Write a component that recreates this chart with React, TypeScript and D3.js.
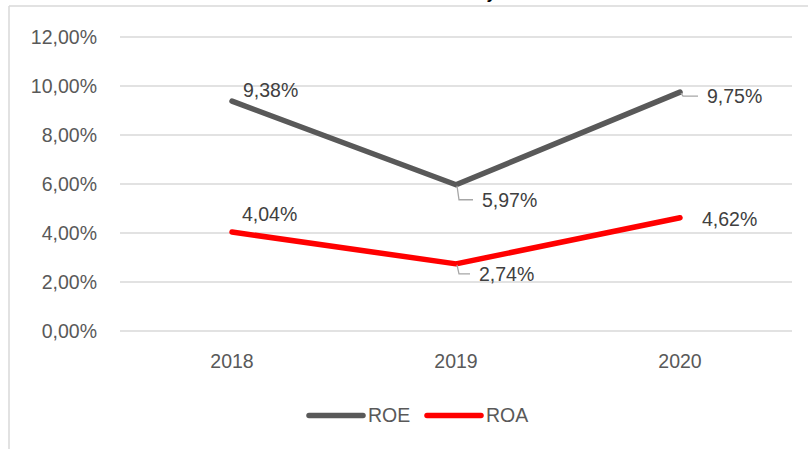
import React from "react";
import * as d3 from "d3";

const years = ["2018", "2019", "2020"];
const roe = [9.38, 5.97, 9.75];
const roa = [4.04, 2.74, 4.62];
const yTicks = [0, 2, 4, 6, 8, 10, 12];
const seriesNames = ["ROE", "ROA"];
const seriesColors = ["#595959", "#FF0000"];

const W = 808;
const H = 449;
const FONT = "'Liberation Sans', Arial, sans-serif";
const TXT = "#595959";

const fmt = (v: number) => v.toFixed(2).replace(".", ",") + "%";

export default function App() {
  const x = d3.scalePoint<string>().domain(years).range([232, 680]);
  const y = d3.scaleLinear().domain([0, 12]).range([331, 37]);
  const line = d3
    .line<number>()
    .x((_, i) => x(years[i]) as number)
    .y((d) => y(d));

  const series = [roe, roa];

  const roeLabels = [
    { dx: 11, dy: -4, leader: false },
    { dx: 26, dy: 22, leader: true },
    { dx: 27, dy: 11, leader: true },
  ];
  const roaLabels = [
    { dx: 10, dy: -11, leader: false },
    { dx: 23, dy: 17, leader: true },
    { dx: 22, dy: 8, leader: false },
  ];
  const labelSets = [roeLabels, roaLabels];

  return (
    <svg
      width={W}
      height={H}
      style={{ position: "absolute", left: 0, top: 0, background: "#fff" }}
      fontFamily={FONT}
    >
      <rect x={0} y={0} width={W} height={H} fill="#fff" />
      {/* clipped title descender */}
      <text x={488} y={-1.5} fontSize={16} fontWeight="bold" fontStyle="italic" fill="#000">
        y
      </text>
      {/* chart border */}
      <line x1={9} x2={W} y1={6} y2={6} stroke="#d9d9d9" strokeWidth={1.5} />
      <line x1={9} x2={9} y1={6} y2={H} stroke="#d9d9d9" strokeWidth={1.5} />

      {yTicks.map((t) => (
        <g key={t}>
          <line x1={120} x2={792} y1={y(t)} y2={y(t)} stroke="#d9d9d9" strokeWidth={1.5} />
          <text x={97} y={y(t)} dy="0.35em" textAnchor="end" fontSize={19.5} fill={TXT}>
            {fmt(t)}
          </text>
        </g>
      ))}

      {years.map((yr) => (
        <text key={yr} x={x(yr) as number} y={368} textAnchor="middle" fontSize={19.5} fill={TXT}>
          {yr}
        </text>
      ))}

      {series.map((s, si) => (
        <path
          key={si}
          d={line(s) || ""}
          fill="none"
          stroke={seriesColors[si]}
          strokeWidth={5.5}
          strokeLinecap="round"
          strokeLinejoin="round"
        />
      ))}

      {series.map((s, si) =>
        s.map((v, i) => {
          const px = x(years[i]) as number;
          const py = y(v);
          const l = labelSets[si][i];
          const tx = px + l.dx;
          const ty = py + l.dy;
          const midY = ty - 7;
          return (
            <g key={`${si}-${i}`}>
              {l.leader && (
                <polyline
                  points={`${px + 1},${py + 1} ${px + 3},${midY} ${tx - 9},${midY}`}
                  fill="none"
                  stroke="#a6a6a6"
                  strokeWidth={1.3}
                />
              )}
              <text x={tx} y={ty} fontSize={19.5} fill="#404040">
                {fmt(v)}
              </text>
            </g>
          );
        })
      )}

      {seriesNames.map((n, i) => {
        const lx = [309, 427][i];
        return (
          <g key={n}>
            <line
              x1={lx}
              x2={lx + 54}
              y1={415.5}
              y2={415.5}
              stroke={seriesColors[i]}
              strokeWidth={5.5}
              strokeLinecap="round"
            />
            <text x={lx + 59} y={422} fontSize={19.5} fill={TXT}>
              {n}
            </text>
          </g>
        );
      })}
    </svg>
  );
}
